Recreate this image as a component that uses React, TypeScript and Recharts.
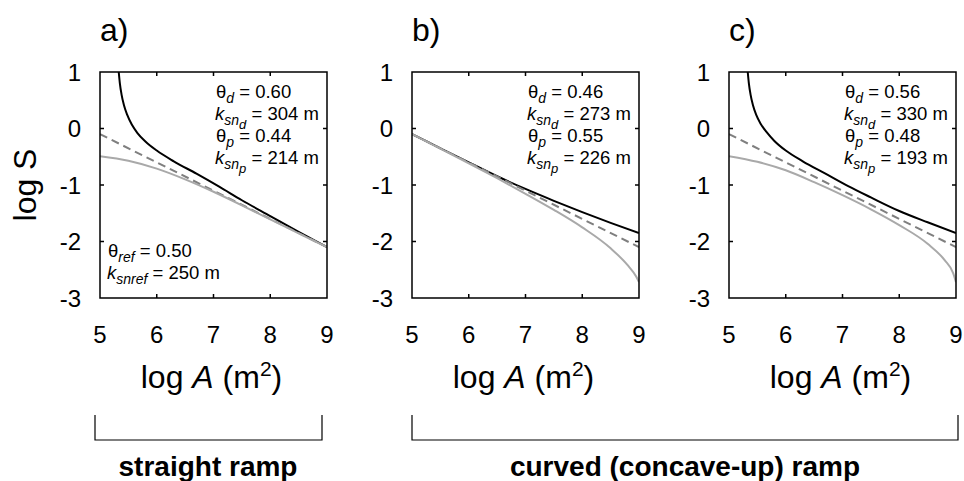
import React from 'react';
import { LineChart, Line, XAxis, YAxis } from 'recharts';

// axis ticks
const xTicks = [5, 6, 7, 8, 9];
const yTicks = [1, 0, -1, -2, -3];

// reference profile (dashed), same in all three panels
const refLogA = [5, 6, 7, 8, 9];
const refLogS = [-0.1, -0.6, -1.1, -1.6, -2.1];

// a) straight ramp
const aDarkLogA = [5.33, 5.35, 5.38, 5.42, 5.48, 5.56, 5.66, 5.8, 6.0, 6.3, 6.7, 7.1, 7.5, 8.0, 8.5, 9.0];
const aDarkLogS = [1.0, 0.8, 0.6, 0.42, 0.24, 0.07, -0.08, -0.23, -0.39, -0.58, -0.8, -1.03, -1.27, -1.55, -1.83, -2.1];
const aLightLogA = [5, 5.5, 6, 6.5, 7, 7.5, 8, 8.5, 9];
const aLightLogS = [-0.49, -0.57, -0.71, -0.9, -1.12, -1.36, -1.61, -1.855, -2.1];

// b) curved ramp
const bDarkLogA = [5, 5.5, 6, 6.5, 7, 7.5, 8, 8.5, 9];
const bDarkLogS = [-0.1, -0.35, -0.6, -0.845, -1.07, -1.28, -1.48, -1.67, -1.85];
const bLightLogA = [5, 5.5, 6, 6.5, 7, 7.5, 8, 8.5, 8.8, 8.95, 9];
const bLightLogS = [-0.1, -0.355, -0.615, -0.88, -1.155, -1.44, -1.75, -2.12, -2.42, -2.62, -2.72];

// c) curved ramp
const cDarkLogA = [5.33, 5.35, 5.38, 5.42, 5.48, 5.56, 5.66, 5.8, 6.0, 6.3, 6.7, 7.1, 7.5, 8.0, 8.5, 9.0];
const cDarkLogS = [1.0, 0.8, 0.6, 0.42, 0.24, 0.08, -0.06, -0.22, -0.39, -0.58, -0.8, -1.02, -1.22, -1.46, -1.66, -1.85];
const cLightLogA = [5, 5.5, 6, 6.5, 7, 7.5, 8, 8.5, 8.8, 8.95, 9];
const cLightLogS = [-0.49, -0.59, -0.74, -0.95, -1.18, -1.43, -1.71, -2.04, -2.33, -2.56, -2.72];

// fitted parameters printed in each panel
const panelNames = ['a)', 'b)', 'c)'];
const thetaD = ['0.60', '0.46', '0.56'];
const ksnD = [304, 273, 330];
const thetaP = ['0.44', '0.55', '0.48'];
const ksnP = [214, 226, 193];
const thetaRef = '0.50';
const ksnRef = 250;

const FONT = "'Liberation Sans', Arial, Helvetica, sans-serif";
const plotLefts = [100, 412, 729];
const PLOT_TOP = 72;
const PLOT_W = 227;
const PLOT_H = 226;
const X_MIN = 5;
const X_MAX = 9;
const Y_MIN = -3;
const Y_MAX = 1;
const M_TOP = 16;
const M_RIGHT = 12;
const TICK = 4;

const pts = (xs: number[], ys: number[]) => xs.map((x, i) => ({ x, y: ys[i] }));

type PanelProps = { left: number; dark: { x: number; y: number }[]; light: { x: number; y: number }[] };

const Panel = ({ left, dark, light }: PanelProps) => (
  <div style={{ position: 'absolute', left: left - 60, top: PLOT_TOP - M_TOP }}>
    <LineChart
      width={60 + PLOT_W + M_RIGHT}
      height={M_TOP + PLOT_H + 50}
      margin={{ top: M_TOP, right: M_RIGHT, bottom: 0, left: 0 }}
    >
      <XAxis
        type="number"
        dataKey="x"
        domain={[X_MIN, X_MAX]}
        ticks={xTicks}
        interval={0}
        height={50}
        axisLine={false}
        tickLine={false}
        tickMargin={22}
        tick={{ fontSize: 24, fill: '#000', fontFamily: FONT }}
        allowDataOverflow
      />
      <YAxis
        type="number"
        domain={[Y_MIN, Y_MAX]}
        ticks={yTicks}
        interval={0}
        width={60}
        axisLine={false}
        tickLine={false}
        tickMargin={13}
        tick={{ fontSize: 24, fill: '#000', fontFamily: FONT }}
        allowDataOverflow
      />
      <Line data={dark} dataKey="y" type="monotone" stroke="#000" strokeWidth={2} dot={false} isAnimationActive={false} />
      <Line data={pts(refLogA, refLogS)} dataKey="y" type="linear" stroke="#7f7f7f" strokeWidth={2} strokeDasharray="8 5" dot={false} isAnimationActive={false} />
      <Line data={light} dataKey="y" type="monotone" stroke="#a9a9a9" strokeWidth={2} dot={false} isAnimationActive={false} />
    </LineChart>
  </div>
);

// box with inward ticks on all four sides of a plot area
const framePath = (left: number) => {
  const sx = (v: number) => left + ((v - X_MIN) / (X_MAX - X_MIN)) * PLOT_W;
  const sy = (v: number) => PLOT_TOP + ((Y_MAX - v) / (Y_MAX - Y_MIN)) * PLOT_H;
  const bottom = PLOT_TOP + PLOT_H;
  const right = left + PLOT_W;
  let d = `M${left},${PLOT_TOP} H${right} V${bottom} H${left} Z`;
  xTicks.slice(1, -1).forEach((t) => {
    d += ` M${sx(t)},${bottom} V${bottom - TICK} M${sx(t)},${PLOT_TOP} V${PLOT_TOP + TICK}`;
  });
  yTicks.slice(1, -1).forEach((t) => {
    d += ` M${left},${sy(t)} H${left + TICK} M${right},${sy(t)} H${right - TICK}`;
  });
  return d;
};

const ParamBlock = ({ i }: { i: number }) => {
  const x = plotLefts[i] + 116;
  return (
    <g fontSize={18.5} fontFamily={FONT} fill="#000">
      <text x={x} y={98}>
        θ<tspan fontSize={14} fontStyle="italic" dy={5}>d</tspan>
        <tspan dy={-5}> = {thetaD[i]}</tspan>
      </text>
      <text x={x - 1} y={120}>
        <tspan fontStyle="italic">k</tspan>
        <tspan fontSize={14} fontStyle="italic" dy={5}>sn</tspan>
        <tspan fontSize={13} fontStyle="italic" dy={4}>d</tspan>
        <tspan dy={-9}> = {ksnD[i]} m</tspan>
      </text>
      <text x={x} y={142}>
        θ<tspan fontSize={14} fontStyle="italic" dy={5}>p</tspan>
        <tspan dy={-5}> = {thetaP[i]}</tspan>
      </text>
      <text x={x - 1} y={164}>
        <tspan fontStyle="italic">k</tspan>
        <tspan fontSize={14} fontStyle="italic" dy={5}>sn</tspan>
        <tspan fontSize={13} fontStyle="italic" dy={4}>p</tspan>
        <tspan dy={-9}> = {ksnP[i]} m</tspan>
      </text>
    </g>
  );
};

const Overlay = () => (
  <svg
    width={964}
    height={481}
    style={{ position: 'absolute', left: 0, top: 0, pointerEvents: 'none' }}
  >
    {plotLefts.map((l, i) => (
      <path key={`f${i}`} d={framePath(l)} fill="none" stroke="#000" strokeWidth={1.5} />
    ))}
    {plotLefts.map((l, i) => (
      <g key={i} fontFamily={FONT} fill="#000">
        <text x={l} y={41} fontSize={32}>{panelNames[i]}</text>
        <text x={l + PLOT_W / 2 - 2} y={388} fontSize={32} textAnchor="middle">
          log <tspan fontStyle="italic">A</tspan> (m<tspan fontSize={21} dy={-12}>2</tspan>
          <tspan dy={12}>)</tspan>
        </text>
        <ParamBlock i={i} />
      </g>
    ))}
    <g fontSize={18.5} fontFamily={FONT} fill="#000">
      <text x={108} y={257}>
        θ<tspan fontSize={14} fontStyle="italic" dy={5}>ref</tspan>
        <tspan dy={-5}> = {thetaRef}</tspan>
      </text>
      <text x={107} y={279}>
        <tspan fontStyle="italic">k</tspan>
        <tspan fontSize={14} fontStyle="italic" dy={5}>snref</tspan>
        <tspan dy={-5}> = {ksnRef} m</tspan>
      </text>
    </g>
    <text
      x={36}
      y={185}
      fontSize={32}
      fontFamily={FONT}
      textAnchor="middle"
      transform="rotate(-90 36 185)"
    >
      log S
    </text>
    <path d="M95,415 V440 H322 V415" fill="none" stroke="#000" strokeWidth={1.2} />
    <path d="M412,415 V440 H958 V415" fill="none" stroke="#000" strokeWidth={1.2} />
    <g fontFamily="'Liberation Sans Narrow', 'Liberation Sans', Arial, sans-serif" fontWeight="bold" fontSize={28} textAnchor="middle">
      <text x={208} y={476}>straight ramp</text>
      <text x={685} y={476}>curved (concave-up) ramp</text>
    </g>
  </svg>
);

const App: React.FC = () => (
  <div
    style={{
      position: 'absolute',
      left: 0,
      top: 0,
      width: 964,
      height: 481,
      overflow: 'hidden',
      background: '#fff',
    }}
  >
    <Panel left={plotLefts[0]} dark={pts(aDarkLogA, aDarkLogS)} light={pts(aLightLogA, aLightLogS)} />
    <Panel left={plotLefts[1]} dark={pts(bDarkLogA, bDarkLogS)} light={pts(bLightLogA, bLightLogS)} />
    <Panel left={plotLefts[2]} dark={pts(cDarkLogA, cDarkLogS)} light={pts(cLightLogA, cLightLogS)} />
    <Overlay />
  </div>
);

export default App;
